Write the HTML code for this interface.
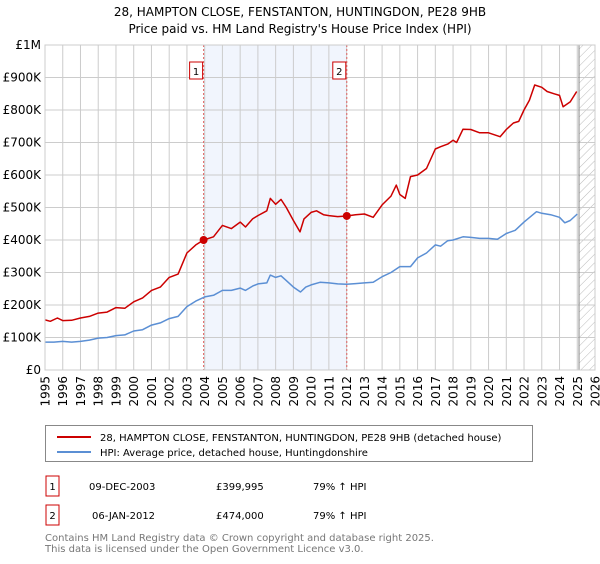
<!DOCTYPE html>
<html><head><meta charset="utf-8"><style>
body{margin:0;background:#fff;font-family:"DejaVu Sans","Liberation Sans",sans-serif;}
svg text{font-family:"DejaVu Sans","Liberation Sans",sans-serif;}
</style></head><body>
<svg id="chart" width="600" height="560" viewBox="0 0 600 560" xmlns="http://www.w3.org/2000/svg">
<defs>
<pattern id="hatch" width="6" height="6" patternUnits="userSpaceOnUse" patternTransform="rotate(45)">
<line x1="0" y1="0" x2="0" y2="6" stroke="#bbb" stroke-width="1"/></pattern>
</defs>
<text x="300" y="16" text-anchor="middle" font-size="12">28, HAMPTON CLOSE, FENSTANTON, HUNTINGDON, PE28 9HB</text>
<text x="300" y="33" text-anchor="middle" font-size="12">Price paid vs. HM Land Registry's House Price Index (HPI)</text>
<g id="plot"></g>
<g>
<rect x="45.5" y="425.5" width="487" height="36" fill="#fff" stroke="#888"/>
<line x1="57" y1="437" x2="91" y2="437" stroke="#cc0000" stroke-width="2"/>
<text x="100" y="441" font-size="10">28, HAMPTON CLOSE, FENSTANTON, HUNTINGDON, PE28 9HB (detached house)</text>
<line x1="57" y1="452" x2="91" y2="452" stroke="#5b8fd4" stroke-width="2"/>
<text x="100" y="456" font-size="10">HPI: Average price, detached house, Huntingdonshire</text>
</g>
<g font-size="10">
<rect x="46" y="476" width="13" height="20" fill="#fff" stroke="#cc0000"/>
<text x="52.5" y="490" text-anchor="middle">1</text>
<text x="89" y="490">09-DEC-2003</text>
<text x="216" y="490">£399,995</text>
<text x="313" y="490">79% ↑ HPI</text>
<rect x="46" y="505" width="13" height="20" fill="#fff" stroke="#cc0000"/>
<text x="52.5" y="519" text-anchor="middle">2</text>
<text x="92" y="519">06-JAN-2012</text>
<text x="216" y="519">£474,000</text>
<text x="313" y="519">79% ↑ HPI</text>
</g>
<text x="45" y="541" font-size="10" fill="#777">Contains HM Land Registry data © Crown copyright and database right 2025.</text>
<text x="45" y="552" font-size="10" fill="#777">This data is licensed under the Open Government Licence v3.0.</text>
</svg>
<script>
const yearTicks=[1995,1996,1997,1998,1999,2000,2001,2002,2003,2004,2005,2006,2007,2008,2009,2010,2011,2012,2013,2014,2015,2016,2017,2018,2019,2020,2021,2022,2023,2024,2025,2026];
const valueTicks=[0,100000,200000,300000,400000,500000,600000,700000,800000,900000,1000000];
const valueTickLabels=["£0","£100K","£200K","£300K","£400K","£500K","£600K","£700K","£800K","£900K","£1M"];
const propYears=[1995,1995.3,1995.7,1996,1996.5,1997,1997.5,1998,1998.5,1999,1999.5,2000,2000.5,2001,2001.5,2002,2002.5,2003,2003.5,2003.94,2004.5,2005,2005.5,2006,2006.3,2006.7,2007,2007.5,2007.7,2008,2008.3,2008.6,2009,2009.37,2009.6,2010,2010.3,2010.7,2011,2011.5,2012.01,2012.5,2013,2013.5,2014,2014.5,2014.8,2015,2015.3,2015.6,2016,2016.5,2017,2017.3,2017.7,2018,2018.2,2018.56,2019,2019.5,2020,2020.65,2021,2021.4,2021.7,2022,2022.3,2022.6,2023,2023.3,2023.7,2024,2024.2,2024.6,2024.97];
const propValues=[154000,150000,160000,152000,153000,160000,165000,175000,178000,192000,190000,210000,222000,245000,255000,285000,295000,360000,385000,399995,410000,445000,435000,455000,440000,465000,475000,490000,528000,510000,525000,500000,460000,425000,465000,485000,490000,478000,475000,472000,474000,478000,480000,470000,508000,535000,569000,540000,528000,595000,600000,620000,680000,687000,695000,707000,700000,741000,740000,730000,730000,718000,740000,760000,765000,800000,830000,877000,870000,857000,850000,845000,810000,825000,857000];
const hpiYears=[1995,1995.5,1996,1996.5,1997,1997.5,1998,1998.5,1999,1999.5,2000,2000.5,2001,2001.5,2002,2002.5,2003,2003.5,2004,2004.5,2005,2005.5,2006,2006.3,2006.7,2007,2007.5,2007.7,2008,2008.3,2008.6,2009,2009.4,2009.7,2010,2010.5,2011,2011.5,2012,2012.5,2013,2013.5,2014,2014.5,2015,2015.6,2016,2016.5,2017,2017.3,2017.7,2018,2018.56,2019,2019.5,2020,2020.5,2021,2021.5,2022,2022.7,2023,2023.5,2024,2024.3,2024.6,2025];
const hpiValues=[86000,86000,88000,86000,88000,92000,98000,100000,106000,108000,120000,124000,138000,145000,158000,165000,195000,212000,225000,230000,245000,245000,252000,245000,258000,265000,268000,292000,285000,290000,275000,255000,240000,255000,262000,270000,268000,265000,264000,266000,268000,270000,287000,300000,318000,318000,345000,360000,385000,381000,398000,400000,410000,408000,405000,405000,402000,420000,430000,455000,487000,482000,478000,470000,453000,460000,480000];
const sales=[{n:"1",year:2003.94,value:399995},{n:"2",year:2012.01,value:474000}];

const X0=45,X1=595,Y0=370,Y1=45,NS="http://www.w3.org/2000/svg";
const xS=y=>X0+(y-1995)/(2026-1995)*(X1-X0);
const yS=v=>Y0-v/1000000*(Y0-Y1);
const g=document.getElementById('plot');
function el(t,a){const e=document.createElementNS(NS,t);for(const k in a)e.setAttribute(k,a[k]);g.appendChild(e);return e;}
let r=el('rect',{x:xS(sales[0].year),y:Y1,width:xS(sales[1].year)-xS(sales[0].year),height:Y0-Y1,fill:'#f1f5fd'});


const hx=xS(2025.1);
r=el('rect',{x:hx,y:Y1,width:X1-hx,height:Y0-Y1,fill:'url(#hatch)'});


yearTicks.forEach((yr)=>{
 const l=el('line',{x1:xS(yr),x2:xS(yr),y1:Y1,y2:Y0,stroke:'#ccc','stroke-width':1});
 
 
 const t=el('text',{x:0,y:0,'font-size':12,'text-anchor':'end',transform:`translate(${xS(yr)+4.5},${Y0+6}) rotate(-90)`});
 t.textContent=yr;
 
 
});
valueTicks.forEach((v,i)=>{
 const l=el('line',{x1:X0,x2:X1,y1:yS(v),y2:yS(v),stroke:'#ccc','stroke-width':1});
 
 
 const t=el('text',{x:X0-4,y:yS(v)+4,'font-size':12,'text-anchor':'end'});
 t.textContent=valueTickLabels[i];
 
 
});
const vl=el('line',{x1:xS(2025.1),x2:xS(2025.1),y1:Y1,y2:Y0,stroke:'#888','stroke-width':1});


sales.forEach(s=>{
 const l=el('line',{x1:xS(s.year),x2:xS(s.year),y1:Y1,y2:Y0,stroke:'#e06060','stroke-width':1,'stroke-dasharray':'2,2'});
 
 
 const b=el('rect',{x:xS(s.year)-14,y:62,width:13,height:17,fill:'#fff',stroke:'#cc0000'});
 
 
 const t=el('text',{x:xS(s.year)-7.5,y:75,'font-size':10,'text-anchor':'middle'});
 t.textContent=s.n;
 
 
});
function line(xs,vs,c,name){
 const p=el('polyline',{points:xs.map((x,i)=>xS(x).toFixed(1)+','+yS(vs[i]).toFixed(1)).join(' '),fill:'none',stroke:c,'stroke-width':1.5,'stroke-linejoin':'round'});
 
 
}
line(hpiYears,hpiValues,'#5b8fd4','hpi-line');
line(propYears,propValues,'#cc0000','property-price-line');
sales.forEach(s=>{
 const c=el('circle',{cx:xS(s.year),cy:yS(s.value),r:4,fill:'#cc0000'});
 
 
});
const ax=el('rect',{x:X0,y:Y1,width:X1-X0,height:Y0-Y1,fill:'none',stroke:'#ccc'});


</script>
</body></html>
